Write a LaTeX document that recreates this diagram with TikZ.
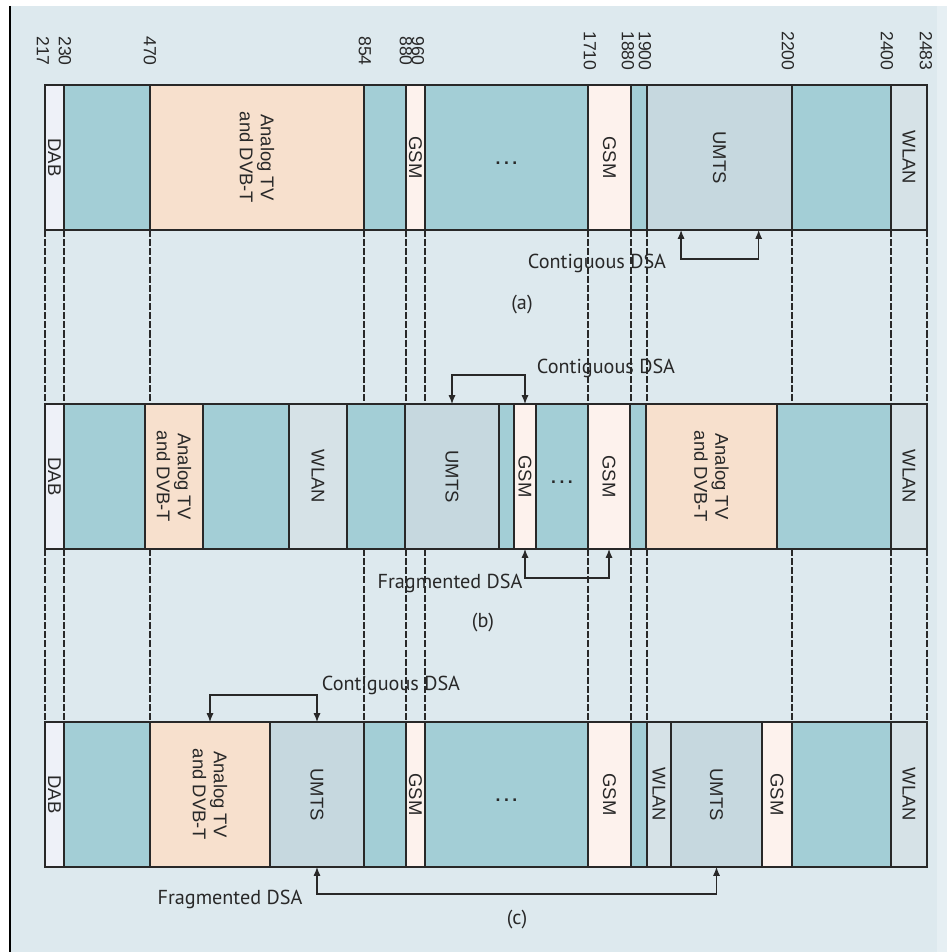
\documentclass[tikz,border=0pt]{standalone}
\usepackage{fontspec}
\setmainfont{Liberation Sans}
\newfontfamily\capfont{PT Sans}
\usetikzlibrary{arrows.meta,calc}
\definecolor{ink}{RGB}{40,40,40}
\definecolor{paper}{RGB}{221,233,238}
\definecolor{paperedge}{RGB}{230,239,243}
\definecolor{free}{RGB}{163,206,214}
\definecolor{tv}{RGB}{247,224,205}
\definecolor{gsm}{RGB}{253,242,237}
\definecolor{umts}{RGB}{198,216,223}
\definecolor{wlan}{RGB}{214,226,231}
\definecolor{dab}{RGB}{238,241,248}
\newcommand{\tvtxt}{Analog TV\\and DVB-T}
\tikzset{
  every picture/.style={color=ink, line width=0.8pt},
  x=0.02cm, y=-0.02cm,
  band/.style={draw=ink, inner sep=0pt, outer sep=0pt, minimum height=2.9cm},
  tag/.style={rotate=-90, font=\fontsize{10.5}{12}\selectfont, align=center, inner sep=0pt},
  freq/.style={rotate=-90, font=\fontsize{10}{12}\selectfont, inner sep=0pt},
  dots/.style={font=\bfseries\fontsize{10}{12}\selectfont, inner sep=0pt, yshift=-3.5pt},
  guide/.style={line width=0.6pt, dash pattern=on 4pt off 1.2pt},
  dsa/.style={{Latex[length=5pt,width=4pt]}-{Latex[length=5pt,width=4pt]}, line width=0.7pt},
  lbl/.style={font=\capfont\fontsize{11.5}{13}\selectfont, inner sep=0pt},
}

\begin{document}
\begin{tikzpicture}
  \useasboundingbox (0,0) rectangle (947,952);
  \fill[white] (0,0) rectangle (947,952);
  \fill[paper] (10,6) rectangle (937,952);
  \fill[paperedge] (937,6) rectangle (947,952);
  \draw[line width=1.1pt, black] (10,6) -- (10,952);

  % frequency marks
  \foreach \f/\x in {217/43,230/65,470/150,854/365,880/406,960/418,1710/590,1880/628,1900/645,2200/788,2400/887,2483/926}
    \node[freq] (f\f) at (\x,51) {\f};

  % guides between the rows
  \foreach \x in {45,64,150,364,406,425,588,631,647,792,891,927} {
    \draw[guide] (\x,230) -- (\x,404);
    \draw[guide] (\x,549) -- (\x,722);
  }

  % row (a)
  \foreach \nm/\xa/\xb/\col/\txt in {dab/45/64/dab/DAB, f1/64/150/free/, tv/150/364/tv/\tvtxt, f2/364/406/free/,
      gsm1/406/425/gsm/GSM, f3/425/588/free/, gsm2/588/631/gsm/GSM, f4/631/647/free/,
      umts/647/792/umts/UMTS, f5/792/891/free/, wlan/891/927/wlan/WLAN} {
    \node[band, fill=\col, minimum width={(\xb-\xa)*0.02cm}] (a-\nm) at ({(\xa+\xb)/2},157.5) {};
    \node[tag] at (a-\nm) {\txt};
  }
  \node[dots] at (a-f3) {.\kern2pt.\kern2pt.};

  % row (b)
  \foreach \nm/\xa/\xb/\col/\txt in {dab/45/64/dab/DAB, f1/64/145/free/, tv/145/203/tv/\tvtxt, f2/203/289/free/,
      wlan/289/347/wlan/WLAN, f3/347/405/free/, umts/405/499/umts/UMTS, f4/499/514/free/,
      gsm1/514/536/gsm/GSM, f5/536/588/free/, gsm2/588/630/gsm/GSM, f6/630/646/free/,
      tv2/646/777/tv/\tvtxt, f7/777/891/free/, wlan2/891/927/wlan/WLAN} {
    \node[band, fill=\col, minimum width={(\xb-\xa)*0.02cm}] (b-\nm) at ({(\xa+\xb)/2},476.5) {};
    \node[tag] at (b-\nm) {\txt};
  }
  \node[dots] at (b-f5) {.\kern2pt.\kern2pt.};

  % row (c)
  \foreach \nm/\xa/\xb/\col/\txt in {dab/45/64/dab/DAB, f1/64/150/free/, tv/150/270/tv/\tvtxt, umts/270/364/umts/UMTS,
      f2/364/406/free/, gsm1/406/425/gsm/GSM, f3/425/588/free/, gsm2/588/631/gsm/GSM, f4/631/647/free/,
      wlan/647/671/wlan/WLAN, umts2/671/762/umts/UMTS, gsm3/762/792/gsm/GSM, f5/792/891/free/,
      wlan2/891/927/wlan/WLAN} {
    \node[band, fill=\col, minimum width={(\xb-\xa)*0.02cm}] (c-\nm) at ({(\xa+\xb)/2},794.5) {};
    \node[tag] at (c-\nm) {\txt};
  }
  \node[dots] at (c-f3) {.\kern2pt.\kern2pt.};

  % DSA moves
  \draw[dsa] ($(a-umts.south west)!.235!(a-umts.south east)$) -- ++(0,29) -| ($(a-umts.south west)!.77!(a-umts.south east)$);
  \node[lbl] (a-cont) at (597,263) {Contiguous DSA};
  \node[lbl] (a-cap) at (522,305) {(a)};

  \draw[dsa] (b-umts.north) -- ++(0,-29) -| (b-gsm1.north);
  \node[lbl] (b-cont) at (606,368) {Contiguous DSA};
  \draw[dsa] (b-gsm1.south) -- ++(0,29) -| (b-gsm2.south);
  \node[lbl] (b-frag) at (450,583) {Fragmented DSA};
  \node[lbl] (b-cap) at (483,623) {(b)};

  \draw[dsa] (c-tv.north) -- ++(0,-27) -| (c-umts.north);
  \node[lbl] (c-cont) at (391,685) {Contiguous DSA};
  \draw[dsa] (c-umts.south) -- ++(0,27) -| (c-umts2.south);
  \node[lbl] (c-frag) at (230,899) {Fragmented DSA};
  \node[lbl] (c-cap) at (517,920) {(c)};
\end{tikzpicture}
\end{document}
